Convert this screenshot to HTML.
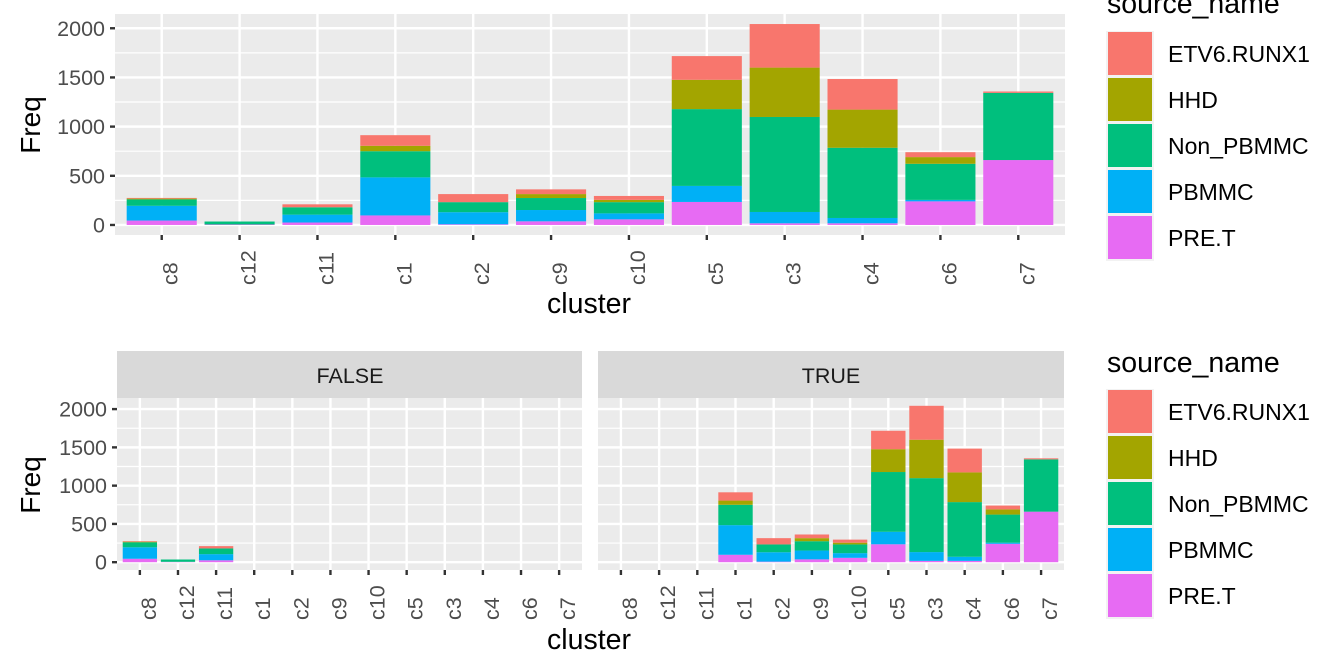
<!DOCTYPE html>
<html><head><meta charset="utf-8"><style>
body{margin:0;background:#fff;}
svg{display:block;font-family:"Liberation Sans",Arial,sans-serif;}
</style></head><body>
<svg id="chart" width="1344" height="672" viewBox="0 0 1344 672" xmlns="http://www.w3.org/2000/svg"></svg>
<script>
const categories = ["c8","c12","c11","c1","c2","c9","c10","c5","c3","c4","c6","c7"];
const seriesNames = ["ETV6.RUNX1","HHD","Non_PBMMC","PBMMC","PRE.T"];
const seriesColors = ["#F8766D","#A3A500","#00BF7D","#00B0F6","#E76BF3"];
const preT     = [45, 5, 25, 97, 7, 37, 57, 234, 17, 17, 240, 660];
const pbmmc    = [150, 0, 80, 387, 123, 115, 61, 163, 115, 54, 15, 0];
const nonPbmmc = [65, 30, 75, 266, 102, 122, 114, 781, 966, 714, 367, 683];
const hhd      = [8, 0, 0, 55, 0, 40, 23, 298, 502, 388, 68, 0];
const etv      = [7, 0, 30, 108, 82, 48, 40, 241, 443, 311, 50, 14];
const falseGroup = [true, true, true, false, false, false, false, false, false, false, false, false];
const yTicks = [0, 500, 1000, 1500, 2000];
const yMax = 2145, yMin = -102;

const svg = document.getElementById('chart');
const NS = "http://www.w3.org/2000/svg";
function mk(tag, attrs, parent){ const e=document.createElementNS(NS,tag); for(const k in attrs) e.setAttribute(k,attrs[k]); (parent||svg).appendChild(e); return e; }

const stack = [preT, pbmmc, nonPbmmc, hhd, etv];
const stackColors = ["#E76BF3","#00B0F6","#00BF7D","#A3A500","#F8766D"];
const stackNames = ["pre-t","pbmmc","non-pbmmc","hhd","etv6-runx1"];

function panel(x0, x1, y0, y1, filterFn, showYLabels, nameP){
  const g = mk('g', {});
  
  
  const yS = v => y1 - (v - yMin) / (yMax - yMin) * (y1 - y0);
  const n = categories.length, step = (x1 - x0) / (n - 1 + 1.2);
  const xS = i => x0 + (0.6 + i) * step;
  mk('rect', {x:x0, y:y0, width:x1-x0, height:y1-y0, fill:'#EBEBEB'}, g);
  for (let t = 250; t < 2145; t += 500) mk('line', {x1:x0, x2:x1, y1:yS(t), y2:yS(t), stroke:'#fff', 'stroke-width':1.2}, g);
  yTicks.forEach(t => {
    mk('line', {x1:x0, x2:x1, y1:yS(t), y2:yS(t), stroke:'#fff', 'stroke-width':2.4}, g);
    if (showYLabels) {
      mk('line', {x1:x0-5, x2:x0, y1:yS(t), y2:yS(t), stroke:'#333', 'stroke-width':2.4});
      const tx = mk('text', {x:x0-10, y:yS(t)+7.5, 'text-anchor':'end', 'font-size':21.5, fill:'#4D4D4D'});
      tx.textContent = t;
      
      
    }
  });
  categories.forEach((c, i) => {
    const cx = xS(i);
    mk('line', {x1:cx, x2:cx, y1:y0, y2:y1, stroke:'#fff', 'stroke-width':2.4}, g);
    mk('line', {x1:cx, x2:cx, y1:y1, y2:y1+5, stroke:'#333', 'stroke-width':2.4});
    const tx = mk('text', {x:0, y:0, 'text-anchor':'start', 'font-size':21.5, fill:'#4D4D4D', transform:`translate(${cx+16},${y1+50}) rotate(-90)`});
    tx.textContent = c;
    
    
    if (!filterFn(i)) return;
    let acc = 0;
    stack.forEach((arr, s) => {
      const v = arr[i]; if (v <= 0) return;
      const r = mk('rect', {x:cx - step*0.45, width:step*0.9, y:yS(acc+v), height:yS(acc)-yS(acc+v), fill:stackColors[s]}, g);
      
      
      acc += v;
    });
  });
}

function text(x, y, str, size, name, anchor, rot){
  const t = mk('text', {x:x, y:y, 'font-size':size, fill:'#000', 'text-anchor':anchor||'start'});
  if (rot) t.setAttribute('transform', `rotate(-90 ${x} ${y})`);
  t.textContent = str;
  
  
  return t;
}

panel(115, 1065, 14, 235, i => true, true, 'top');
text(40, 125, 'Freq', 28, 'y-axis-title', 'middle', true);
text(589, 313, 'cluster', 28.5, 'x-axis-title', 'middle');

mk('rect', {x:117, y:351, width:465, height:47, fill:'#D9D9D9'});
mk('rect', {x:598, y:351, width:466, height:47, fill:'#D9D9D9'});
text(350, 383, 'FALSE', 21.5, 'facet-label-false', 'middle').setAttribute('fill','#1A1A1A');
text(831, 383, 'TRUE', 21.5, 'facet-label-true', 'middle').setAttribute('fill','#1A1A1A');
panel(117, 582, 398, 570, i => falseGroup[i], true, 'false');
panel(598, 1064, 398, 570, i => !falseGroup[i], false, 'true');
text(40, 485, 'Freq', 28, 'y-axis-title-bottom', 'middle', true);
text(589, 649, 'cluster', 28.5, 'x-axis-title-bottom', 'middle');

function legend(titleY, keyY, nm){
  text(1107, titleY, 'source_name', 28.5, nm+'-title');
  seriesNames.forEach((s, k) => {
    const y = keyY + k*46;
    mk('rect', {x:1106, y:y, width:48, height:46, fill:'#F2F2F2'});
    const r = mk('rect', {x:1108, y:y+1, width:44, height:43, fill:seriesColors[k]});
    
    
    text(1168, y+31, s, 23, nm+'-label');
  });
}
legend(13, 31, 'legend');
legend(372, 389, 'legend-bottom');
</script>
</body></html>
